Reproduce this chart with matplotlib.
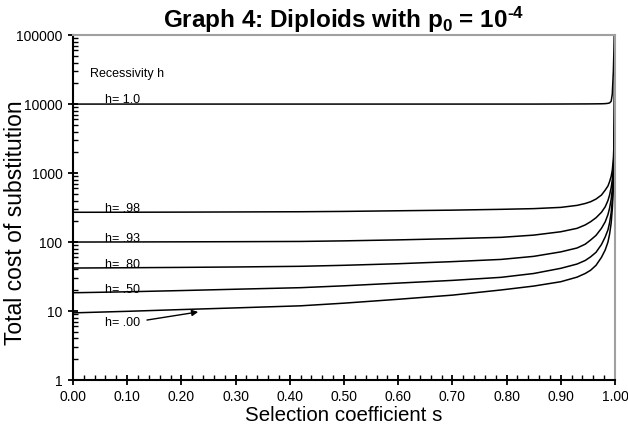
import matplotlib.pyplot as plt
from matplotlib.ticker import MultipleLocator, LogLocator, NullFormatter, FixedLocator, FixedFormatter

plt.rcParams['font.family'] = ['Liberation Sans', 'DejaVu Sans']
plt.rcParams['mathtext.fontset'] = 'custom'
plt.rcParams['mathtext.rm'] = 'Liberation Sans:bold'
plt.rcParams['mathtext.it'] = 'Liberation Sans:bold'
plt.rcParams['mathtext.bf'] = 'Liberation Sans:bold'

# selection coefficient s (x axis)
s = [0.0, 0.1, 0.2, 0.3, 0.42, 0.5, 0.6, 0.7, 0.79, 0.85, 0.9, 0.93, 0.945, 0.955,
     0.965, 0.975, 0.982, 0.987, 0.99, 0.993, 0.995, 0.997, 0.998, 0.999, 0.9995, 1.0]

# total cost of substitution for each recessivity h
cost_h100 = [10000, 10000, 10000, 10000, 10000, 10000, 10000, 10000, 10000, 10000,
             10020, 10040, 10050, 10060, 10080, 10100, 10150, 10250, 10400, 11000,
             14000, 30000, 60000, 150000, 250000, 300000]
cost_h098 = [270, 270.5, 271.5, 273, 275, 278, 284, 290, 298, 305,
             318, 340, 362, 384, 420, 480, 567, 650, 750, 900,
             1100, 1600, 2500, 7000, 35000, 300000]
cost_h093 = [100, 100.3, 100.7, 101.2, 102, 104, 107.5, 112, 117, 126,
             141, 158, 177, 197, 225, 270, 325, 400, 480, 620,
             800, 1200, 2000, 6000, 30000, 300000]
cost_h080 = [42, 42.4, 42.9, 43.5, 44.5, 46, 48.5, 52, 56, 62,
             72, 82, 93, 107, 125, 158, 197, 250, 310, 420,
             580, 950, 1700, 5000, 25000, 300000]
cost_h050 = [18.4, 19, 19.8, 20.7, 21.8, 23.2, 25.4, 27.8, 30.8, 35,
             41.6, 48, 54, 61, 71, 92, 119, 150, 190, 270,
             400, 750, 1400, 4500, 20000, 300000]
cost_h000 = [9.4, 9.9, 10.5, 11.1, 11.9, 13.0, 14.8, 17.0, 20.2, 23,
             26.6, 31, 35, 39, 46, 60, 77, 100, 130, 190,
             300, 600, 1200, 4000, 20000, 300000]

labels = ['h= 1.0', 'h= .98', 'h= .93', 'h= .80', 'h= .50']
label_y = [11500, 300, 112, 46, 20.5]

fig = plt.figure(figsize=(6.28, 4.29), dpi=100)
ax = fig.add_axes([0.1162, 0.1142, 0.8631, 0.8040])

for c in [cost_h100, cost_h098, cost_h093, cost_h080, cost_h050, cost_h000]:
    ax.plot(s, c, color='black', linewidth=1.1)

ax.set_yscale('log')
ax.set_xlim(0, 1)
ax.set_ylim(1, 100000)

# ticks
ax.xaxis.set_minor_locator(MultipleLocator(0.02))
ax.set_xticks([i / 10 for i in range(11)])
ax.set_xticklabels(['%.2f' % (i / 10) for i in range(11)])
ax.yaxis.set_major_locator(FixedLocator([1, 10, 100, 1000, 10000, 100000]))
ax.yaxis.set_major_formatter(FixedFormatter(['1', '10', '100', '1000', '10000', '100000']))
ax.yaxis.set_minor_locator(LogLocator(base=10, subs=range(2, 10)))
ax.yaxis.set_minor_formatter(NullFormatter())
ax.tick_params(which='major', direction='inout', length=7, width=1.3, labelsize=10, pad=4)
ax.tick_params(which='minor', direction='in', length=3.5, width=1.0)

for side in ['left', 'bottom']:
    ax.spines[side].set_linewidth(1.5)
for side in ['top', 'right']:
    ax.spines[side].set_color('#a0a0a0')
    ax.spines[side].set_linewidth(1.5)

ax.set_xlabel('Selection coefficient s', fontsize=14.8, labelpad=1)
ax.set_ylabel('Total cost of substitution', fontsize=16.5, labelpad=2)
ax.yaxis.set_label_coords(-0.085, 0.455)
ax.set_title('Graph 4: Diploids with p$_0$ = 10$^{\\text{-}4}$',
             fontsize=17.5, fontweight='bold', pad=2)

# annotations
ax.text(0.031, 27000, 'Recessivity h', fontsize=9, va='center')
for lab, yv in zip(labels, label_y):
    ax.text(0.059, yv, lab, fontsize=9, va='center')
ax.text(0.059, 6.7, 'h= .00', fontsize=9, va='center')
ax.annotate('', xy=(0.231, 9.7), xytext=(0.1365, 7.4),
            arrowprops=dict(arrowstyle='-|>', color='black', lw=1.0,
                            shrinkA=0, shrinkB=0, mutation_scale=9))

fig.savefig('out.png', dpi=100)
